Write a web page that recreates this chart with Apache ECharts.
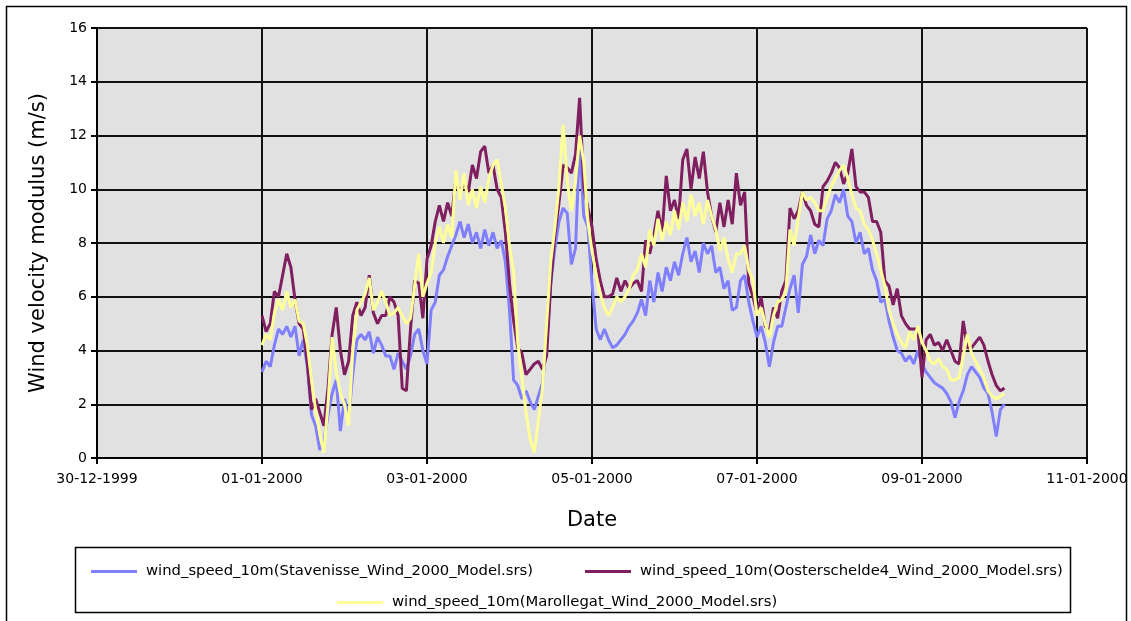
<!DOCTYPE html>
<html>
<head>
<meta charset="utf-8">
<title>Wind velocity modulus 2000</title>
<script src="https://cdn.jsdelivr.net/npm/echarts@6/dist/echarts.min.js"></script>
<style>
  html, body { margin: 0; padding: 0; background: #fff; }
  #chart { width: 1131px; height: 621px; }
</style>
</head>
<body>
<div id="chart"></div>
<script>
// samples every 0.05 day, first one on 01-01-2000 (day 2 counted from 30-12-1999)
const startDay = 2
const stepDay = 0.05

const stavenisse = [
  3.2, 3.6, 3.4, 4.2, 4.8, 4.6, 4.9, 4.5, 4.9, 3.8,
  4.4, 3.4, 1.6, 1.2, 0.3, 0.6, 1.6, 2.4, 2.9, 1.0,
  2.2, 1.5, 3.1, 4.4, 4.6, 4.4, 4.7, 3.9, 4.5, 4.2,
  3.8, 3.8, 3.3, 3.9, 3.6, 3.3, 3.8, 4.6, 4.8, 4.0,
  3.5, 5.5, 5.8, 6.8, 7.0, 7.5, 7.9, 8.3, 8.8, 8.2,
  8.7, 8.0, 8.4, 7.8, 8.5, 7.9, 8.4, 7.8, 8.1, 7.3,
  5.5, 2.9, 2.7, 2.2, 2.5, 2.1, 1.8, 2.3, 2.8, 4.2,
  6.5, 7.8, 8.8, 9.3, 9.1, 7.2, 7.8, 11.8, 9.0, 8.6,
  6.5, 4.8, 4.4, 4.8, 4.4, 4.1, 4.2, 4.4, 4.6, 4.9,
  5.1, 5.4, 5.9, 5.3, 6.6, 5.8, 6.9, 6.2, 7.1, 6.6,
  7.3, 6.8, 7.6, 8.2, 7.3, 7.7, 6.9, 8.0, 7.6, 7.9,
  6.9, 7.1, 6.3, 6.6, 5.5, 5.6, 6.6, 6.8, 5.8, 5.1,
  4.5, 4.9, 4.3, 3.4, 4.3, 4.9, 4.9, 5.6, 6.3, 6.8,
  5.4, 7.2, 7.5, 8.3, 7.6, 8.1, 7.9, 8.9, 9.2, 9.8,
  9.5, 10.0, 9.0, 8.8, 8.0, 8.4, 7.6, 7.8, 7.0, 6.6,
  5.8, 5.9, 5.1, 4.5, 4.0, 3.9, 3.6, 3.8, 3.5, 4.0,
  3.5, 3.2, 3.0, 2.8, 2.7, 2.6, 2.4, 2.1, 1.5, 2.1,
  2.5, 3.1, 3.4, 3.2, 3.0, 2.6, 2.4, 1.7, 0.8, 1.8,
  2.0
]

const oosterschelde = [
  5.3, 4.7, 5.0, 6.2, 6.0, 6.8, 7.6, 7.1, 5.9, 5.0,
  4.8, 3.5, 1.8, 2.2, 1.7, 1.2, 2.6, 4.6, 5.6, 4.0,
  3.1, 3.6, 5.3, 5.8, 5.3, 5.6, 6.8, 5.4, 5.0, 5.3,
  5.3, 6.0, 5.8, 5.3, 2.6, 2.5, 4.8, 6.6, 6.5, 5.2,
  7.4, 7.9, 8.8, 9.4, 8.8, 9.5, 9.0, 10.4, 9.8, 10.3,
  9.9, 10.9, 10.4, 11.4, 11.6, 10.6, 10.9, 10.0, 9.7, 8.4,
  6.5, 5.1, 4.1, 3.9, 3.1, 3.3, 3.5, 3.6, 3.3, 3.8,
  6.5, 8.3, 9.5, 10.9, 10.8, 10.6, 11.3, 13.4, 10.1, 9.3,
  8.6, 7.4, 6.6, 6.0, 6.0, 6.1, 6.7, 6.2, 6.6, 6.3,
  6.5, 6.6, 6.2, 8.1, 7.6, 8.3, 9.2, 8.4, 10.5, 9.2,
  9.6, 8.9, 11.1, 11.5, 10.0, 11.2, 10.4, 11.4, 9.9, 9.0,
  8.4, 9.5, 8.6, 9.6, 8.7, 10.6, 9.4, 9.9, 6.5, 6.0,
  5.4, 6.0, 4.9, 4.7, 5.6, 5.2, 6.2, 6.6, 9.3, 8.9,
  9.2, 9.9, 9.4, 9.2, 8.7, 8.6, 10.1, 10.3, 10.6, 11.0,
  10.8, 10.2, 10.6, 11.5, 10.1, 9.9, 9.9, 9.7, 8.8, 8.8,
  8.4, 6.6, 6.4, 5.7, 6.3, 5.3, 5.0, 4.8, 4.8, 4.8,
  3.0, 4.4, 4.6, 4.2, 4.3, 4.0, 4.4, 4.0, 3.6, 3.5,
  5.1, 4.1, 4.1, 4.3, 4.5, 4.2, 3.6, 3.1, 2.7, 2.5,
  2.6
]

const marollegat = [
  4.2, 4.6, 4.4, 5.4, 5.9, 5.5, 6.2, 5.6, 5.9, 5.1,
  5.0, 4.2, 2.9, 1.8, 0.9, 0.2, 2.0, 4.5, 3.2, 2.4,
  2.0, 1.2, 4.0, 5.5, 5.8, 6.1, 6.7, 5.5, 5.8, 6.2,
  5.8, 5.3, 5.4, 5.6, 5.3, 5.0, 5.2, 6.4, 7.6, 6.0,
  6.5, 6.9, 8.0, 8.6, 8.0, 8.7, 8.2, 10.7, 9.6, 10.6,
  9.4, 10.0, 9.3, 10.1, 9.5, 10.4, 10.9, 11.1, 10.2, 9.3,
  7.9, 6.9, 4.3, 3.0, 1.7, 0.7, 0.2, 1.4, 2.6, 5.0,
  7.3, 8.6, 10.1, 12.4, 10.3, 9.2, 10.3, 12.0, 11.0, 8.8,
  7.7, 6.8, 6.1, 5.6, 5.3, 5.6, 6.0, 5.8, 6.0, 6.3,
  6.8, 7.0, 7.6, 7.1, 8.5, 7.9, 8.9, 8.1, 8.8, 8.3,
  9.2, 8.5, 9.5, 8.8, 9.8, 9.0, 9.5, 8.7, 9.6, 9.0,
  8.5, 7.7, 8.2, 7.4, 6.9, 7.6, 7.6, 7.9, 7.0, 6.6,
  5.3, 5.6, 5.0, 4.5, 5.3, 5.8, 5.9, 6.2, 8.5, 7.9,
  8.9, 9.9, 9.6, 9.7, 9.5, 9.2, 9.2, 9.7, 10.1, 10.4,
  10.7, 10.9, 10.4, 9.8, 9.3, 9.2, 8.7, 8.5, 8.1, 7.6,
  7.0, 6.4, 5.5, 5.0, 4.6, 4.3, 4.1, 4.7, 4.4, 4.9,
  4.3, 4.0, 3.6, 3.5, 3.7, 3.4, 3.3, 2.9, 2.9, 3.0,
  3.8, 4.6, 3.9, 3.6, 3.3, 3.0, 2.5, 2.3, 2.2, 2.3,
  2.4
]

const seriesNames = [
  'wind_speed_10m(Stavenisse_Wind_2000_Model.srs)',
  'wind_speed_10m(Oosterschelde4_Wind_2000_Model.srs)',
  'wind_speed_10m(Marollegat_Wind_2000_Model.srs)'
]
const seriesColors = ['#8080ff', '#7f1f5f', '#ffff99']

// x axis: days counted from 30-12-1999, tick every 2 days
const axisDays = [0, 12, 2]
const dayZero = Date.UTC(1999, 11, 30)

const pad = n => (n < 10 ? '0' : '') + n
const dayLabel = v => {
  const d = new Date(dayZero + v * 86400000)
  return pad(d.getUTCDate()) + '-' + pad(d.getUTCMonth() + 1) + '-' + d.getUTCFullYear()
}
const toPairs = arr => arr.map((v, i) => [startDay + i * stepDay, v])

const font = 'DejaVu Sans'
const chart = echarts.init(document.getElementById('chart'))

const legendItem = (name, left, top) => ({
  data: [name],
  left: left,
  top: top,
  icon: 'rect',
  itemWidth: 46,
  itemHeight: 3,
  selectedMode: false,
  textStyle: { fontFamily: font, fontSize: 14.8, color: '#000', padding: [0, 0, 0, 4] }
})

const option = {
  animation: false,
  backgroundColor: '#fff',
  textStyle: { fontFamily: font },
  graphic: [
    {
      type: 'rect',
      shape: { x: 6.5, y: 6.5, width: 1120, height: 640 },
      style: { fill: 'none', stroke: '#000', lineWidth: 1.5 },
      silent: true
    },
    {
      type: 'rect',
      shape: { x: 75.5, y: 547.5, width: 995, height: 65 },
      style: { fill: '#fff', stroke: '#000', lineWidth: 1.5 },
      silent: true,
      z: 0
    }
  ],
  legend: [
    legendItem(seriesNames[0], 86, 559),
    legendItem(seriesNames[1], 580, 559),
    legendItem(seriesNames[2], 332, 590)
  ],
  grid: {
    left: 97,
    top: 28,
    width: 990,
    height: 430,
    show: true,
    backgroundColor: '#e1e1e1',
    borderWidth: 0
  },
  xAxis: {
    type: 'value',
    min: axisDays[0],
    max: axisDays[1],
    interval: axisDays[2],
    name: 'Date',
    nameLocation: 'middle',
    nameGap: 52,
    nameTextStyle: { fontFamily: font, fontSize: 21, color: '#000' },
    axisLine: { show: true, lineStyle: { color: '#000', width: 2 } },
    axisTick: { show: true, length: 6, lineStyle: { color: '#000', width: 2 } },
    axisLabel: { fontFamily: font, fontSize: 14, color: '#000', margin: 14, formatter: dayLabel },
    splitLine: { show: true, lineStyle: { color: '#111', width: 2 } }
  },
  yAxis: {
    type: 'value',
    min: 0,
    max: 16,
    interval: 2,
    name: 'Wind velocity modulus (m/s)',
    nameLocation: 'middle',
    nameGap: 48,
    nameTextStyle: { fontFamily: font, fontSize: 21, color: '#000' },
    axisLine: { show: true, lineStyle: { color: '#000', width: 2 } },
    axisTick: { show: true, length: 6, lineStyle: { color: '#000', width: 2 } },
    axisLabel: { fontFamily: font, fontSize: 14, color: '#000', margin: 10 },
    splitLine: { show: true, lineStyle: { color: '#111', width: 2 } }
  },
  series: [stavenisse, oosterschelde, marollegat].map((arr, k) => ({
    name: seriesNames[k],
    type: 'line',
    data: toPairs(arr),
    showSymbol: false,
    symbol: 'none',
    color: seriesColors[k],
    lineStyle: { width: 3, color: seriesColors[k] },
    emphasis: { disabled: true }
  }))
}

chart.setOption(option)
window.addEventListener('resize', () => chart.resize())
</script>
</body>
</html>
